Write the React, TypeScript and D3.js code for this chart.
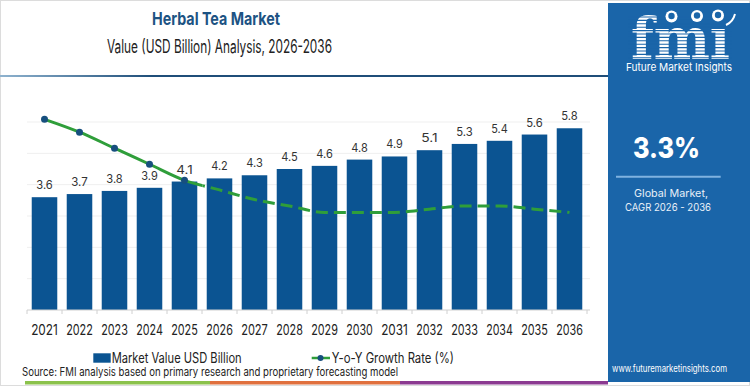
import React from 'react';
import * as d3 from 'd3';

// DATA
const years = ['2021', '2022', '2023', '2024', '2025', '2026', '2027', '2028', '2029', '2030', '2031', '2032', '2033', '2034', '2035', '2036'];
const marketValue = [3.6, 3.7, 3.8, 3.9, 4.1, 4.2, 4.3, 4.5, 4.6, 4.8, 4.9, 5.1, 5.3, 5.4, 5.6, 5.8];
const growthRate = [5.6, 5.2, 4.7, 4.2, 3.7, 3.4, 3.1, 2.9, 2.7, 2.7, 2.7, 2.8, 2.9, 2.9, 2.8, 2.7];
const gridTicks = [1, 2, 3, 4, 5, 6];
const lastActual = '2025';
const seriesNames = ['Market Value USD Billion', 'Y-o-Y Growth Rate (%)'];

const FONT = 'Inter, "Noto Sans", sans-serif';
const BAR = '#0b5492';
const GREEN = '#2f9e3a';
const PANEL = '#1a65a9';

const App = () => {
  // SET UP DIMENSIONS
  const w = 750, h = 386;
  const base = 310;

  // SCALES
  const x = d3.scaleBand<string>().domain(years).range([27, 587]).paddingInner(0.27).paddingOuter(0.135);
  const y = d3.scaleLinear().domain([0, 6]).range([base, 122]);
  const y2 = d3.scaleLinear().domain([0, 6]).range([299, 106.5]);
  const cx = (yr: string) => (x(yr) as number) + x.bandwidth() / 2;

  const pts = years.map((yr, i) => [cx(yr), y2(growthRate[i])] as [number, number]);
  const line = d3.line().curve(d3.curveMonotoneX)(pts) || '';
  const splitX = cx(lastActual) + 18;
  const actualIdx = years.indexOf(lastActual);

  // band boundaries for the little tick marks
  const bounds = [x.range()[0], ...years.map((yr) => (x(yr) as number) + x.bandwidth() + x.step() * 0.135)];

  return (
    <svg width={w} height={h} style={{ position: 'absolute', left: 0, top: 0, fontFamily: FONT }}>
      <defs>
        <clipPath id="solidPart"><rect x={0} y={0} width={splitX} height={h} /></clipPath>
        <clipPath id="dashPart"><rect x={splitX} y={0} width={w} height={h} /></clipPath>
        <linearGradient id="rule" x1="0" x2="1" y1="0" y2="0">
          <stop offset="0" stopColor="#8fb3cf" />
          <stop offset="0.25" stopColor="#1f4e79" />
          <stop offset="1" stopColor="#1f4e79" />
        </linearGradient>
      </defs>
      <rect x={0} y={0} width={w} height={h} fill="#fff" />
      <rect x={0.5} y={0.5} width={w - 1} height={h - 1} fill="none" stroke="#dcdcdc" />

      {/* TITLES */}
      <text x={216} y={25} textAnchor="middle" fontSize={18} fontWeight={700} fill="#1d5383" textLength={128} lengthAdjust="spacingAndGlyphs">Herbal Tea Market</text>
      <text x={219.5} y={53} textAnchor="middle" fontSize={18} fill="#222" textLength={225} lengthAdjust="spacingAndGlyphs">Value (USD Billion) Analysis, 2026-2036</text>
      <rect x={0} y={75} width={608} height={2} fill="url(#rule)" />

      {/* GRID */}
      {gridTicks.map((t) => (
        <line key={t} x1={27} x2={590} y1={y(t)} y2={y(t)} stroke="#efefef" />
      ))}

      {/* BARS */}
      {years.map((yr, i) => (
        <rect key={yr} x={x(yr)} y={y(marketValue[i])} width={x.bandwidth()} height={base - y(marketValue[i])} fill={BAR} />
      ))}
      {years.map((yr, i) => (
        <text key={'v' + yr} x={cx(yr)} y={y(marketValue[i]) - 8} textAnchor="middle" fontSize={11.5} fill="#333" textLength={16.5} lengthAdjust="spacingAndGlyphs">{marketValue[i].toFixed(1)}</text>
      ))}

      {/* X AXIS */}
      <line x1={27} x2={590} y1={base} y2={base} stroke="#d0d0d0" />
      {bounds.map((b, i) => (
        <line key={'t' + i} x1={b} x2={b} y1={base} y2={base + 4} stroke="#d0d0d0" />
      ))}
      {years.map((yr) => (
        <text key={'x' + yr} x={cx(yr)} y={335} textAnchor="middle" fontSize={14} fill="#222" textLength={26.7} lengthAdjust="spacingAndGlyphs">{yr}</text>
      ))}

      {/* GROWTH LINE */}
      <path d={line} fill="none" stroke={GREEN} strokeWidth={3} clipPath="url(#solidPart)" />
      <path d={line} fill="none" stroke={GREEN} strokeWidth={3} strokeDasharray="12,6" clipPath="url(#dashPart)" />
      {pts.slice(0, actualIdx + 1).map((p, i) => (
        <circle key={'p' + i} cx={p[0]} cy={p[1]} r={3.5} fill="#174f7e" />
      ))}

      {/* LEGEND */}
      <rect x={93.3} y={353.3} width={17.4} height={9.4} fill={BAR} />
      <text x={111.7} y={362.7} fontSize={14} fill="#222" textLength={130} lengthAdjust="spacingAndGlyphs">{seriesNames[0]}</text>
      <line x1={311.7} x2={330} y1={358} y2={358} stroke={GREEN} strokeWidth={2.5} />
      <circle cx={320.5} cy={358} r={3} fill="#174f7e" />
      <text x={331.7} y={362.7} fontSize={14} fill="#222" textLength={122.3} lengthAdjust="spacingAndGlyphs">{seriesNames[1]}</text>

      {/* SOURCE */}
      <text x={22} y={375.5} fontSize={11.5} fill="#222" textLength={376} lengthAdjust="spacingAndGlyphs">Source: FMI analysis based on primary research and proprietary forecasting model</text>
      <rect x={25} y={381} width={185} height={3.5} fill="#8bc24c" />
      <rect x={210} y={381} width={190} height={3.5} fill="#e0703e" />
      <rect x={400} y={381} width={208} height={3.5} fill="#8b3a91" />

      {/* RIGHT PANEL */}
      <rect x={608} y={3} width={142} height={379} fill={PANEL} />
      <text x={631} y={59} fontSize={58} fontWeight={700} fill="#fff" fontFamily='"DejaVu Serif", serif' textLength={99} lengthAdjust="spacingAndGlyphs">fmı</text>
      {d3.range(17, 61, 3.4).map((yy) => (
        <line key={'s' + yy} x1={628} x2={732} y1={yy} y2={yy} stroke={PANEL} strokeWidth={1.1} />
      ))}
      {[[671.5, 16.5], [697, 16], [718, 15.5]].map((c, i) => (
        <g key={'g' + i}>
          <circle cx={c[0]} cy={c[1]} r={6} fill="#fff" />
          <circle cx={c[0]} cy={c[1] - 0.5} r={3.2} fill={PANEL} />
        </g>
      ))}
      <path d="M726,25 Q733,22 735,14" fill="none" stroke="#fff" strokeWidth={2} />
      <text x={626} y={71} fontSize={11} fill="#fff" textLength={106} lengthAdjust="spacingAndGlyphs">Future Market Insights</text>

      <text x={633} y={158.3} fontSize={28} fontWeight={800} fill="#fff" textLength={67} lengthAdjust="spacingAndGlyphs">3.3%</text>
      <line x1={616} x2={720.7} y1={176.7} y2={176.7} stroke="#7fb2e0" strokeWidth={2} />
      <text x={671} y={197} textAnchor="middle" fontSize={10.5} fill="#e8f0f8" textLength={74} lengthAdjust="spacingAndGlyphs">Global Market,</text>
      <text x={668} y={210.7} textAnchor="middle" fontSize={10.5} fill="#e8f0f8" textLength={86} lengthAdjust="spacingAndGlyphs">CAGR 2026 - 2036</text>
      <text x={612} y={372} fontSize={10.5} fill="#fff" textLength={115} lengthAdjust="spacingAndGlyphs">www.futuremarketinsights.com</text>
    </svg>
  );
};

export default App;
